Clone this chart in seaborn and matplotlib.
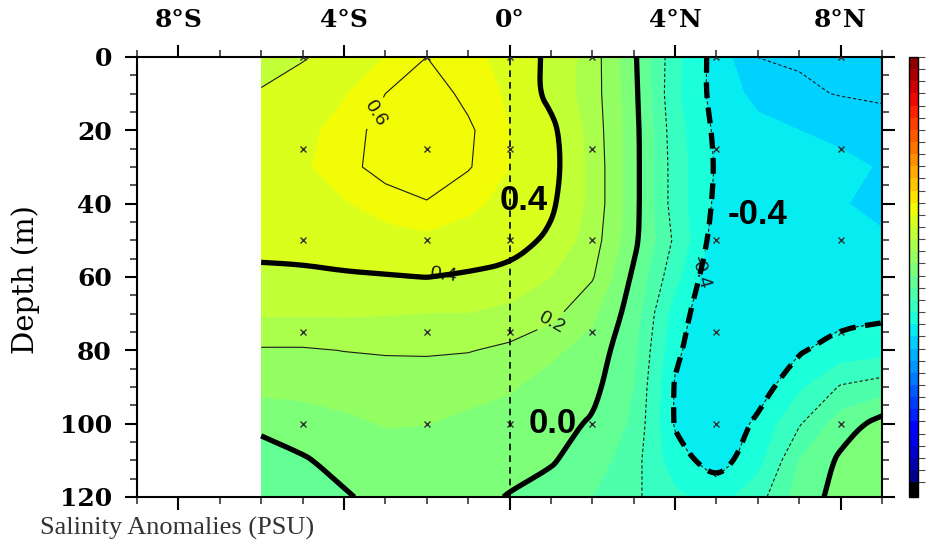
import numpy as np
import matplotlib
matplotlib.use("Agg")
import matplotlib.pyplot as plt
import seaborn as sns
from matplotlib.ticker import MultipleLocator
from matplotlib.colors import Normalize
from matplotlib.cm import ScalarMappable

# grid of the section: latitude (deg, negative = south) and depth (m)
LATS = [-6, -5, -4, -3, -2, -1, 0, 1, 2, 3, 4, 5, 6, 7, 8, 9]
DEPTHS = [0, 10, 20, 30, 40, 50, 60, 70, 80, 90, 100, 110, 120]

# salinity anomaly (PSU), one row per depth
D000 = [0.35, 0.39, 0.45, 0.50, 0.60, 0.53, 0.46, 0.38, 0.25, 0.02, -0.27, -0.44, -0.601, -0.61, -0.62, -0.63]
D010 = [0.41, 0.46, 0.49, 0.60, 0.66, 0.57, 0.48, 0.37, 0.25, 0.03, -0.28, -0.44, -0.53, -0.585, -0.605, -0.615]
D020 = [0.44, 0.47, 0.54, 0.65, 0.70, 0.62, 0.50, 0.43, 0.26, 0.04, -0.26, -0.42, -0.47, -0.50, -0.53, -0.56]
D030 = [0.45, 0.48, 0.56, 0.65, 0.69, 0.61, 0.50, 0.44, 0.27, 0.04, -0.25, -0.41, -0.45, -0.47, -0.47, -0.51]
D040 = [0.44, 0.46, 0.49, 0.54, 0.59, 0.52, 0.47, 0.42, 0.27, 0.04, -0.25, -0.42, -0.44, -0.46, -0.49, -0.54]
D050 = [0.43, 0.44, 0.45, 0.46, 0.47, 0.46, 0.45, 0.38, 0.25, 0.03, -0.22, -0.45, -0.47, -0.47, -0.47, -0.48]
D060 = [0.38, 0.38, 0.39, 0.395, 0.401, 0.39, 0.37, 0.30, 0.21, -0.02, -0.27, -0.49, -0.48, -0.46, -0.44, -0.45]
D070 = [0.31, 0.31, 0.31, 0.305, 0.298, 0.297, 0.27, 0.23, 0.12, -0.05, -0.35, -0.49, -0.49, -0.46, -0.43, -0.42]
D080 = [0.19, 0.19, 0.202, 0.21, 0.21, 0.205, 0.18, 0.12, 0.06, -0.08, -0.38, -0.49, -0.46, -0.41, -0.36, -0.34]
D090 = [0.13, 0.13, 0.14, 0.14, 0.15, 0.13, 0.11, 0.06, 0.03, -0.10, -0.41, -0.49, -0.45, -0.32, -0.19, -0.15]
D100 = [0.02, 0.05, 0.08, 0.105, 0.102, 0.08, 0.06, 0.03, -0.01, -0.12, -0.41, -0.48, -0.38, -0.21, -0.05, 0.04]
D110 = [-0.04, -0.01, 0.03, 0.06, 0.06, 0.05, 0.03, 0.01, -0.05, -0.16, -0.36, -0.45, -0.34, -0.10, 0.02, 0.08]
D120 = [-0.06, -0.03, -0.01, 0.03, 0.04, 0.03, -0.005, -0.04, -0.10, -0.18, -0.28, -0.34, -0.24, -0.06, 0.04, 0.10]

# CTD stations (x marks)
STATION_LATS = [-5, -2, 0, 2, 5, 8]
STATION_DEPTHS = [0, 25, 50, 75, 100]

SHADE_LEVELS = np.round(np.arange(-1.7, 1.81, 0.1), 1)
THIN_LEVELS = [-0.6, -0.4, -0.2, 0.0, 0.2, 0.4, 0.6]
LABEL_SPOTS = {0.6: (-3.4, 14), 0.4: (-1.6, 59), 0.2: (1.1, 74), -0.4: (4.4, 58)}
BOLD_LEVELS = {0.4: "solid", 0.0: "solid", -0.4: (0, (3, 1.8))}
BIG_LABELS = [("0.4", 0.35, 39), ("0.0", 1.05, 100), ("-0.4", 6.0, 43)]

LAT_TICKS = [-8, -4, 0, 4, 8]
LAT_NAMES = ["8°S", "4°S", "0°", "4°N", "8°N"]
DEPTH_TICKS = [0, 20, 40, 60, 80, 100, 120]


def chaikin(pts, rounds=3):
    # corner cutting so the bold lines look hand drawn like the original
    for _ in range(rounds):
        if len(pts) < 3:
            break
        q = 0.75 * pts[:-1] + 0.25 * pts[1:]
        r = 0.25 * pts[:-1] + 0.75 * pts[1:]
        mid = np.empty((2 * len(q), 2))
        mid[0::2] = q
        mid[1::2] = r
        pts = np.vstack([pts[:1], mid, pts[-1:]])
    return pts


sns.set_theme(style="ticks")
plt.rcParams["font.family"] = ["DejaVu Serif", "DejaVu Sans"]

Z = np.array([D000, D010, D020, D030, D040, D050, D060,
              D070, D080, D090, D100, D110, D120])
LON, DEP = np.meshgrid(LATS, DEPTHS)

jet = matplotlib.colormaps["jet"].with_extremes(under="black")
norm = Normalize(vmin=SHADE_LEVELS[0], vmax=SHADE_LEVELS[-1])
# the shading saturates beyond +/-0.5 (no orange core, one sky-blue band)
centers = (SHADE_LEVELS[:-1] + SHADE_LEVELS[1:]) / 2
band_colors = [jet(norm(c)) for c in np.clip(centers, -0.55, 0.55)]

fig = plt.figure(figsize=(9.27, 5.54), dpi=100)
ax = fig.add_axes([137 / 927, 57 / 554, 745 / 927, 440 / 554])
cax = fig.add_axes([909 / 927, 57 / 554, 9 / 927, 440 / 554])

ax.contourf(LATS, DEPTHS, Z, levels=SHADE_LEVELS, colors=band_colors,
            zorder=1)

ax.grid(True, color="white", alpha=0.3, lw=0.8, zorder=2)
ax.xaxis.set_minor_locator(MultipleLocator(1))
ax.yaxis.set_minor_locator(MultipleLocator(5))

for lev in THIN_LEVELS:
    style = (0, (3, 2)) if lev < 0 else "solid"
    cs = ax.contour(LATS, DEPTHS, Z, levels=[lev], colors="#1a1a1a",
                    linewidths=0.8, linestyles=[style], zorder=3)
    if lev in LABEL_SPOTS:
        lbls = ax.clabel(cs, manual=[LABEL_SPOTS[lev]], fmt="%.1f",
                         fontsize=14, inline=True, inline_spacing=3)
        for t in lbls:
            t.set_family("Liberation Sans")
            t.set_color("#1a1a1a")

# hand-drawn emphasis lines (top-left corner piece of 0.4 left out)
Zm = np.ma.masked_where((LON <= -5) & (DEP <= 10), Z)
for lev, style in BOLD_LEVELS.items():
    cs = ax.contour(LATS, DEPTHS, Zm, levels=[lev])
    segs = cs.allsegs[0]
    cs.remove()
    for seg in segs:
        sm_seg = chaikin(np.asarray(seg))
        ax.plot(sm_seg[:, 0], sm_seg[:, 1], color="black", lw=3.8,
                ls=style, solid_capstyle="butt", solid_joinstyle="round",
                zorder=5)

sx, sy = np.meshgrid(STATION_LATS, STATION_DEPTHS)
ax.plot(sx.ravel(), sy.ravel(), "x", ls="none", color="0.2", ms=4.5,
        mew=1.0, zorder=4)

ax.axvline(0, color="black", lw=1.2, ls=(0, (4, 3)), zorder=4)

for txt, x, y in BIG_LABELS:
    ax.text(x, y, txt, ha="center", va="center", fontsize=25,
            fontweight="bold", family="Liberation Sans", color="black",
            zorder=6)

ax.set_xlim(-9, 9)
ax.set_ylim(120, 0)
ax.set_xticks(LAT_TICKS)
ax.set_xticklabels(LAT_NAMES)
ax.set_yticks(DEPTH_TICKS)
ax.set_xlabel("")
ax.set_ylabel("")
ax.tick_params(which="major", direction="out", length=9, width=1.5,
               top=True, right=True, bottom=True, left=True,
               labeltop=True, labelbottom=False, labelsize=18,
               pad=9, colors="black")
ax.tick_params(which="minor", direction="out", length=5, width=1.1,
               top=True, right=True, bottom=True, left=True)
for lab in ax.get_xticklabels() + ax.get_yticklabels():
    lab.set_fontweight("bold")
for sp in ax.spines.values():
    sp.set_linewidth(1.5)
    sp.set_color("black")

sm = ScalarMappable(norm=norm, cmap=jet)
cb = fig.colorbar(sm, cax=cax, extend="min", extendrect=True,
                  extendfrac=0.035, boundaries=SHADE_LEVELS)
cb.set_ticks(SHADE_LEVELS)
cb.ax.tick_params(length=5, width=0.8, labelright=False, direction="out",
                  colors="0.3")
cb.outline.set_linewidth(1)
cb.outline.set_edgecolor("black")

fig.text(0.028, 0.495, "Depth (m)", rotation=90, ha="center", va="center",
         fontsize=21, family="DejaVu Serif", color="black")
fig.text(0.043, 0.047, "Salinity Anomalies (PSU)", ha="left", va="center",
         fontsize=19, family="Liberation Serif", color="#333333")

fig.savefig("out.png", dpi=100)
